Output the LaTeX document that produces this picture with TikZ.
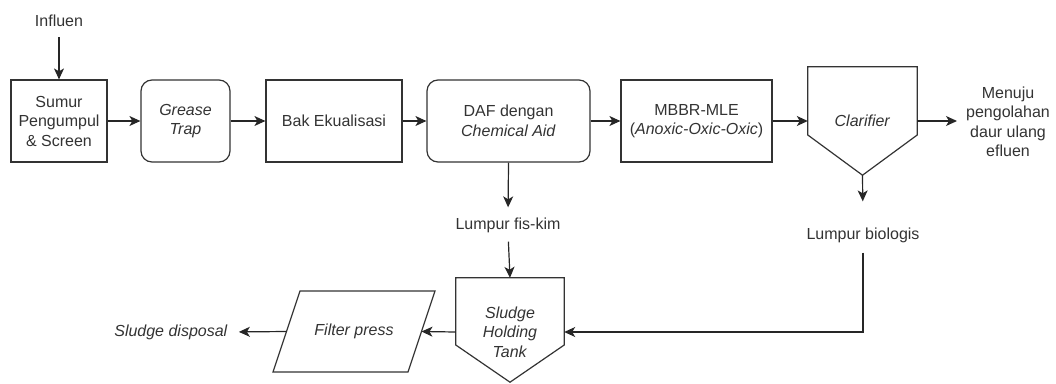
\documentclass[tikz,border=0pt]{standalone}
\usepackage{fontspec}
\setmainfont{Liberation Sans}
\usetikzlibrary{arrows.meta,calc}
\begin{document}
\begin{tikzpicture}[x=1pt,y=-1pt,
  every node/.style={font=\fontsize{16}{19.5}\selectfont, text=black!80, align=center, inner sep=0pt},
  box/.style={draw=black!80, line width=1.2pt, minimum height=82pt},
  rbox/.style={box, rounded corners=11pt},
  lbl/.style={},
  conn/.style={draw=black!85, line width=1.2pt, -{Stealth[length=11pt,width=10pt,inset=3pt]}},
  line/.style={draw=black!85, line width=1.2pt},
  shp/.style={draw=black!80, line width=1.2pt}]
\useasboundingbox (0,0) rectangle (1056,383);
% nodes
\node[lbl] (influen) at (59,21) {Influen};
\node[box, minimum width=96pt] (sumur) at (59,121) {Sumur\\Pengumpul\\\& Screen};
\node[rbox, minimum width=89pt] (grease) at (185.5,121) {\textit{Grease}\\\textit{Trap}};
\node[box, minimum width=136pt] (bak) at (334,121) {Bak Ekualisasi};
\node[rbox, minimum width=163pt] (daf) at (508.5,121) {DAF dengan\\\textit{Chemical Aid}};
\node[box, minimum width=151pt] (mbbr) at (696.5,121) {MBBR-MLE\\(\textit{Anoxic-Oxic-Oxic})};
\node[minimum width=109pt, minimum height=108pt] (clar) at (862.5,121) {\textit{Clarifier}};
\draw[shp] (clar.north west) -- (clar.north east) -- ($(clar.east)+(0,14)$) -- (clar.south) -- ($(clar.west)+(0,14)$) -- cycle;
\node[lbl] (menuju) at (1008,122) {Menuju\\pengolahan\\daur ulang\\efluen};
\node[lbl] (fiskim) at (508,225) {Lumpur fis-kim};
\node[lbl] (bio) at (863,235) {Lumpur biologis};
\node[minimum width=108pt, minimum height=108pt] (tank) at (510,332) {\textit{Sludge}\\\textit{Holding}\\\textit{Tank}};
\draw[shp] (tank.north west) -- (tank.north east) -- ($(tank.east)+(0,13)$) -- ($(tank.south)+(0,-4)$) -- ($(tank.west)+(0,13)$) -- cycle;
\node (fp) at (354,331.5) {\textit{Filter press}};
\draw[shp] (300,291) -- (435,291) -- (408,372) -- (273,372) -- cycle;
\coordinate (fpE) at (421.5,331.5);
\coordinate (fpW) at (286.5,331.5);
\node[lbl] (disp) at (171,332) {\textit{Sludge disposal}};
\coordinate (bend) at (863,332);
% connectors
\draw[conn, shorten <=10pt] (influen.south) -- (sumur.north);
\draw[conn] (sumur.east) -- (grease.west);
\draw[conn] (grease.east) -- (bak.west);
\draw[conn] (bak.east) -- (daf.west);
\draw[conn] (daf.east) -- (mbbr.west);
\draw[conn] (mbbr.east) -- (clar.west);
\draw[conn, shorten >=9pt] (clar.east) -- (menuju.west |- clar.east);
\draw[conn, shorten >=10pt] (daf.south) -- (fiskim.north);
\draw[conn, shorten <=9pt] (fiskim.south) -- (tank.north);
\draw[conn, shorten >=26pt] (clar.south) -- (bio.north);
\draw[line, -{Stealth[length=11pt,width=10pt,inset=3pt]}, shorten <=10pt] (bio.south) -- (bend) -- (tank.east);
\draw[conn] (tank.west) -- (fpE);
\draw[conn, shorten >=11pt] (fpW) -- (disp.east);
\end{tikzpicture}
\end{document}
